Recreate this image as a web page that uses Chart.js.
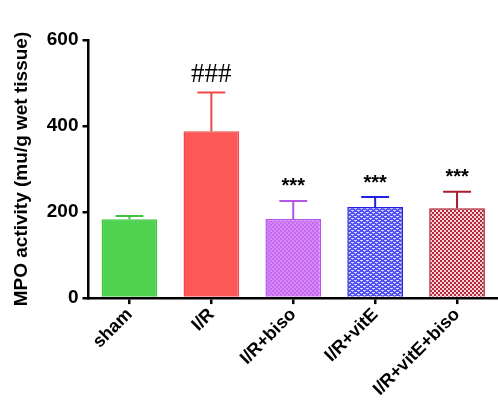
<!DOCTYPE html>
<html>
<head>
<meta charset="utf-8">
<script src="https://cdn.jsdelivr.net/npm/chart.js@4"></script>
<style>
  html, body { margin: 0; padding: 0; background: #fff; }
  #wrap { width: 498px; height: 400px; }
</style>
</head>
<body>
<div id="wrap"><canvas id="myCanvas"></canvas></div>
<script>
// data
let groups = ['sham', 'I/R', 'I/R+biso', 'I/R+vitE', 'I/R+vitE+biso'];
let mpoMean = [183, 388, 184, 212, 209];
let mpoSem = [8, 90, 42, 23, 38];
let marks = ['', '###', '***', '***', '***'];
let yTicks = [0, 200, 400, 600];

// small tiles for the hatched bars
function tile(w, h, draw) {
    let c = document.createElement('canvas');
    c.width = w; c.height = h;
    let g = c.getContext('2d');
    draw(g);
    return g.createPattern(c, 'repeat');
}
let ctxMain = document.getElementById('myCanvas').getContext('2d');

let purpleFill = tile(4, 4, function(g) {
    g.fillStyle = '#c668f2'; g.fillRect(0, 0, 4, 4);
    g.fillStyle = '#d58af5'; g.fillRect(0, 0, 2, 2); g.fillRect(2, 2, 2, 2);
});
let blueFill = tile(6, 4, function(g) {
    g.fillStyle = '#4f4ff2'; g.fillRect(0, 0, 6, 4);
    g.fillStyle = '#d8d8ff'; g.fillRect(0, 0, 3, 1); g.fillRect(3, 2, 3, 1);
    g.fillStyle = '#a8a8fa'; g.fillRect(1, 1, 1, 1); g.fillRect(4, 3, 1, 1);
});
let redFill = tile(4, 4, function(g) {
    g.fillStyle = '#f6d6da'; g.fillRect(0, 0, 4, 4);
    g.fillStyle = '#b8283c'; g.fillRect(0, 0, 2, 2); g.fillRect(2, 2, 2, 2);
});

let fills = ['#4fd24f', '#fd5757', purpleFill, blueFill, redFill];
let edges = ['#3ec43e', '#f04848', '#b455e6', '#2020e0', '#a81c2c'];

// error bars and significance marks
let errPlugin = {
    id: 'errbars',
    afterDatasetsDraw: function(chart) {
        let c = chart.ctx;
        let yS = chart.scales.y;
        let meta = chart.getDatasetMeta(0);
        meta.data.forEach(function(bar, i) {
            let top = yS.getPixelForValue(mpoMean[i] + mpoSem[i]);
            let half = bar.width / 4;
            c.save();
            c.strokeStyle = edges[i];
            c.lineWidth = 2;
            c.beginPath();
            c.moveTo(bar.x, bar.y);
            c.lineTo(bar.x, top);
            c.moveTo(bar.x - half, top);
            c.lineTo(bar.x + half, top);
            c.stroke();
            if (marks[i]) {
                c.fillStyle = '#000';
                c.textAlign = 'center';
                c.textBaseline = 'bottom';
                if (marks[i] === '###') {
                    c.font = '27px "Liberation Serif"';
                    c.fillText(marks[i], bar.x, top - 4);
                } else {
                    c.font = 'bold 20px "Liberation Sans"';
                    c.fillText(marks[i], bar.x, top - 4);
                }
            }
            c.restore();
        });
    }
};

let data = {
    labels: groups,
    datasets: [{
        data: mpoMean,
        backgroundColor: fills,
        borderColor: edges,
        borderWidth: 1.5,
        barPercentage: 0.68,
        categoryPercentage: 1
    }]
};

let options = {
    responsive: true,
    maintainAspectRatio: false,
    animation: false,
    layout: { padding: { left: 10, right: 0, top: 40, bottom: 0 } },
    plugins: { legend: { display: false }, tooltip: { enabled: false } },
    scales: {
        x: {
            grid: { display: true, drawOnChartArea: false, offset: false, color: '#000', lineWidth: 2.5, tickLength: 6 },
            border: { display: true, color: '#000', width: 2.5 },
            ticks: {
                color: '#000',
                font: { family: 'Liberation Sans', size: 18, weight: 'bold' },
                minRotation: 45, maxRotation: 45, padding: 0
            }
        },
        y: {
            min: 0, max: 600,
            afterBuildTicks: function(s) { s.ticks = yTicks.map(function(v) { return { value: v }; }); },
            grid: { display: true, drawOnChartArea: false, color: '#000', lineWidth: 2.5, tickLength: 6 },
            border: { display: true, color: '#000', width: 2.5 },
            ticks: {
                color: '#000',
                font: { family: 'Liberation Sans', size: 19, weight: 'bold' },
                padding: 4
            },
            title: {
                display: true,
                text: 'MPO activity (mu/g wet tissue)',
                color: '#000',
                font: { family: 'Liberation Sans', size: 19, weight: 'bold' },
                padding: { top: 0, bottom: 10 }
            }
        }
    }
};

let myBarChart = new Chart(ctxMain, {
    type: 'bar',
    data: data,
    options: options,
    plugins: [errPlugin]
});
</script>
</body>
</html>
